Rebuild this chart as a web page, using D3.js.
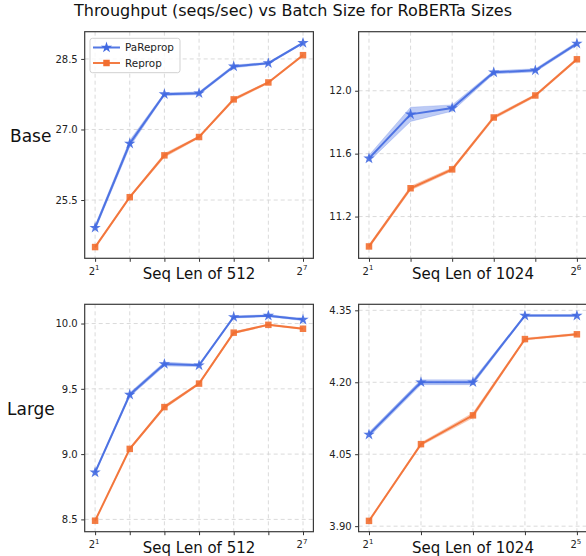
<!DOCTYPE html>
<html>
<head>
<meta charset="utf-8">
<script src="https://cdn.jsdelivr.net/npm/d3@7"></script>
<style>
  body { margin: 0; background: #fff; }
  text { font-family: "DejaVu Sans", sans-serif; }
</style>
</head>
<body>
<div id="chart"></div>
<script>
// Batch sizes are powers of two, stored here as exponents.
var exps512 = [1, 2, 3, 4, 5, 6, 7];
var expsBase1024 = [1, 2, 3, 4, 5, 6];
var expsLarge1024 = [1, 2, 3, 4, 5];

// Base model, seq len 512
var baseLen512Pa = [24.91, 26.70, 27.75, 27.77, 28.34, 28.41, 28.84];
var baseLen512PaStd = [0.05, 0.07, 0.03, 0.03, 0.03, 0.02, 0.02];
var baseLen512Re = [24.50, 25.56, 26.45, 26.84, 27.64, 28.00, 28.58];
var baseLen512ReStd = [0.02, 0.02, 0.04, 0.02, 0.03, 0.02, 0.02];

// Base model, seq len 1024
var baseLen1024Pa = [11.57, 11.85, 11.89, 12.117, 12.13, 12.30];
var baseLen1024PaStd = [0.02, 0.045, 0.02, 0.01, 0.01, 0.01];
var baseLen1024Re = [11.01, 11.38, 11.50, 11.83, 11.97, 12.20];
var baseLen1024ReStd = [0.01, 0.012, 0.01, 0.01, 0.008, 0.008];

// Large model, seq len 512
var largeLen512Pa = [8.86, 9.455, 9.69, 9.68, 10.05, 10.06, 10.03];
var largeLen512PaStd = [0.01, 0.015, 0.015, 0.01, 0.008, 0.008, 0.008];
var largeLen512Re = [8.49, 9.04, 9.36, 9.54, 9.93, 9.99, 9.96];
var largeLen512ReStd = [0.005, 0.008, 0.012, 0.008, 0.008, 0.005, 0.005];

// Large model, seq len 1024
var largeLen1024Pa = [4.091, 4.200, 4.200, 4.339, 4.339];
var largeLen1024PaStd = [0.005, 0.005, 0.005, 0.002, 0.002];
var largeLen1024Re = [3.911, 4.071, 4.131, 4.290, 4.300];
var largeLen1024ReStd = [0.001, 0.003, 0.005, 0.002, 0.002];

var yTicksBase512 = [25.5, 27.0, 28.5];
var yTicksBase1024 = [11.2, 11.6, 12.0];
var yTicksLarge512 = [8.5, 9.0, 9.5, 10.0];
var yTicksLarge1024 = [3.90, 4.05, 4.20, 4.35];

var seriesNames = ["PaReprop", "Reprop"];
var rowNames = ["Base", "Large"];
var title = "Throughput (seqs/sec) vs Batch Size for RoBERTa Sizes";

var colors = {"PaReprop": "#4169e1", "Reprop": "#f26e30"};

var panels = [
  {row: 0, col: 0, exps: exps512, label: "Seq Len of 512", yTicks: yTicksBase512, fmt: ".1f",
   pa: baseLen512Pa, paStd: baseLen512PaStd, re: baseLen512Re, reStd: baseLen512ReStd, legend: true},
  {row: 0, col: 1, exps: expsBase1024, label: "Seq Len of 1024", yTicks: yTicksBase1024, fmt: ".1f",
   pa: baseLen1024Pa, paStd: baseLen1024PaStd, re: baseLen1024Re, reStd: baseLen1024ReStd},
  {row: 1, col: 0, exps: exps512, label: "Seq Len of 512", yTicks: yTicksLarge512, fmt: ".1f",
   pa: largeLen512Pa, paStd: largeLen512PaStd, re: largeLen512Re, reStd: largeLen512ReStd},
  {row: 1, col: 1, exps: expsLarge1024, label: "Seq Len of 1024", yTicks: yTicksLarge1024, fmt: ".2f",
   pa: largeLen1024Pa, paStd: largeLen1024PaStd, re: largeLen1024Re, reStd: largeLen1024ReStd}
];

var divWidth = 586, divHeight = 556;
var colLeft = [84.7, 358.6], axW = 228.7;
var rowTop = [31.7, 304.3], axH = [226.6, 227.4];

var svg = d3.select("#chart")
  .append("svg")
  .attr("width", divWidth)
  .attr("height", divHeight);

svg.append("text")
  .attr("x", 293).attr("y", 16)
  .attr("text-anchor", "middle")
  .style("font-size", "16px")
  .attr("fill", "#111")
  .text(title);

svg.append("text").attr("x", 10).attr("y", 142)
  .style("font-size", "17px").attr("fill", "#111").text(rowNames[0]);
svg.append("text").attr("x", 7).attr("y", 415)
  .style("font-size", "17px").attr("fill", "#111").text(rowNames[1]);

panels.forEach(function (p) {
  var x0 = colLeft[p.col], y0 = rowTop[p.row], h = axH[p.row];
  var n = p.exps.length;
  var xpad = (p.exps[n - 1] - p.exps[0]) * 0.05;

  var xScale = d3.scaleLog().base(2)
    .domain([Math.pow(2, p.exps[0] - xpad), Math.pow(2, p.exps[n - 1] + xpad)])
    .range([x0, x0 + axW]);

  var lo = d3.min([d3.min(p.pa, (v, i) => v - p.paStd[i]), d3.min(p.re, (v, i) => v - p.reStd[i])]);
  var hi = d3.max([d3.max(p.pa, (v, i) => v + p.paStd[i]), d3.max(p.re, (v, i) => v + p.reStd[i])]);
  var ypad = (hi - lo) * 0.05;
  var yScale = d3.scaleLinear().domain([lo - ypad, hi + ypad]).range([y0 + h, y0]);

  var g = svg.append("g");

  // Grid lines.
  g.selectAll("line.gx").data(p.exps).join("line")
    .attr("x1", d => xScale(Math.pow(2, d))).attr("x2", d => xScale(Math.pow(2, d)))
    .attr("y1", y0).attr("y2", y0 + h)
    .attr("stroke", "#d6d6d6").attr("stroke-width", 0.9).attr("stroke-dasharray", "4,3");
  g.selectAll("line.gy").data(p.yTicks).join("line")
    .attr("x1", x0).attr("x2", x0 + axW)
    .attr("y1", d => yScale(d)).attr("y2", d => yScale(d))
    .attr("stroke", "#d6d6d6").attr("stroke-width", 0.9).attr("stroke-dasharray", "4,3");

  var series = [
    {name: "PaReprop", vals: p.pa, std: p.paStd, symbol: d3.symbolStar, size: 40},
    {name: "Reprop", vals: p.re, std: p.reStd, symbol: d3.symbolSquare, size: 42}
  ];

  series.forEach(function (s) {
    var pts = s.vals.map((v, i) => ({e: p.exps[i], v: v, s: s.std[i]}));
    var area = d3.area()
      .x(d => xScale(Math.pow(2, d.e)))
      .y0(d => yScale(d.v - d.s))
      .y1(d => yScale(d.v + d.s));
    g.append("path").attr("d", area(pts))
      .attr("fill", colors[s.name]).attr("fill-opacity", 0.35)
      .attr("stroke", colors[s.name]).attr("stroke-opacity", 0.2).attr("stroke-width", 1);
    var line = d3.line()
      .x(d => xScale(Math.pow(2, d.e)))
      .y(d => yScale(d.v));
    g.append("path").attr("d", line(pts))
      .attr("fill", "none").attr("stroke", colors[s.name])
      .attr("stroke-width", 2).attr("stroke-opacity", 0.9);
    g.selectAll(null).data(pts).join("path")
      .attr("d", d3.symbol().type(s.symbol).size(s.size))
      .attr("transform", d => `translate(${xScale(Math.pow(2, d.e))},${yScale(d.v)})`)
      .attr("fill", colors[s.name]).attr("fill-opacity", 0.9);
  });

  // Axes.
  var xAxis = d3.axisBottom(xScale)
    .tickValues(p.exps.map(e => Math.pow(2, e)))
    .tickSize(3.5).tickFormat("");
  var gx = g.append("g").attr("transform", `translate(0,${y0 + h})`).call(xAxis);
  gx.select(".domain").remove();
  gx.selectAll(".tick line").attr("stroke", "#333").attr("stroke-width", 1);

  [p.exps[0], p.exps[n - 1]].forEach(function (e) {
    var t = g.append("text")
      .attr("x", xScale(Math.pow(2, e)) - 1)
      .attr("y", y0 + h + 16.5)
      .attr("text-anchor", "middle")
      .attr("fill", "#222")
      .style("font-size", "10px");
    t.append("tspan").text("2");
    t.append("tspan").attr("dy", -4.5).style("font-size", "7px").text(e);
  });

  var yAxis = d3.axisLeft(yScale)
    .tickValues(p.yTicks).tickSize(3.5).tickPadding(3.5)
    .tickFormat(d3.format(p.fmt));
  var gy = g.append("g").attr("transform", `translate(${x0},0)`).call(yAxis);
  gy.select(".domain").remove();
  gy.selectAll(".tick line").attr("stroke", "#333").attr("stroke-width", 1);
  gy.selectAll(".tick text").attr("fill", "#222")
    .style("font-size", "10px").style("font-family", "DejaVu Sans, sans-serif");

  g.append("rect").attr("x", x0).attr("y", y0).attr("width", axW).attr("height", h)
    .attr("fill", "none").attr("stroke", "#3a3a3a").attr("stroke-width", 1.2);

  g.append("text")
    .attr("x", x0 + axW / 2).attr("y", y0 + h + 21)
    .attr("text-anchor", "middle")
    .attr("fill", "#111")
    .style("font-size", "15px")
    .text(p.label);

  if (p.legend) {
    var lg = g.append("g");
    lg.append("rect").attr("x", 90).attr("y", 38.3).attr("width", 90).attr("height", 34.4)
      .attr("rx", 2.5).attr("fill", "#fff").attr("fill-opacity", 0.8)
      .attr("stroke", "#cccccc").attr("stroke-width", 0.9);
    series.forEach(function (s, i) {
      var ly = 47.5 + i * 15.5;
      lg.append("line").attr("x1", 93).attr("x2", 120).attr("y1", ly).attr("y2", ly)
        .attr("stroke", colors[s.name]).attr("stroke-width", 2).attr("stroke-opacity", 0.9);
      lg.append("path").attr("d", d3.symbol().type(s.symbol).size(s.size))
        .attr("transform", `translate(106.5,${ly})`)
        .attr("fill", colors[s.name]);
      lg.append("text").attr("x", 125).attr("y", ly + 3.8)
        .attr("fill", "#222").style("font-size", "10.4px").text(s.name);
    });
  }
});
</script>
</body>
</html>
